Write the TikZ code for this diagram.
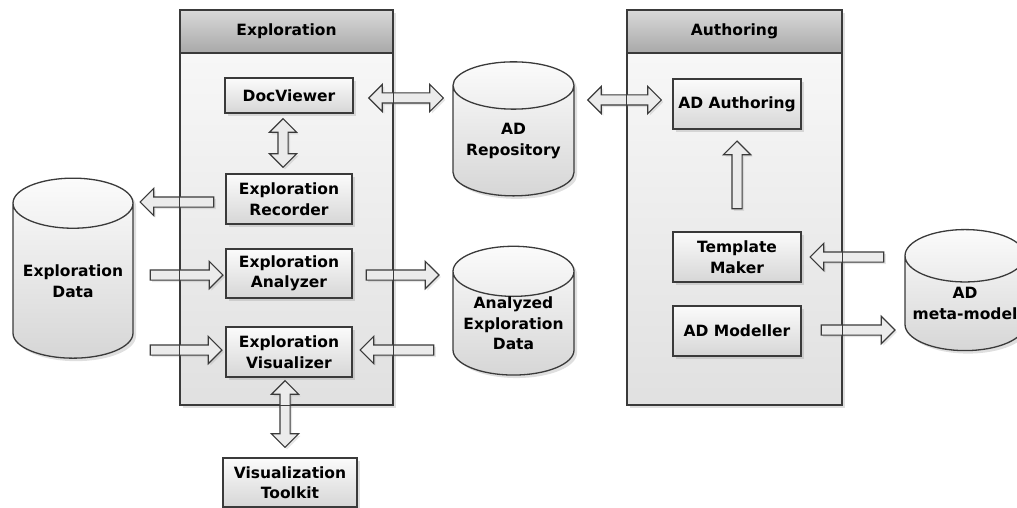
\documentclass[tikz,border=0pt]{standalone}
\usepackage{fontspec}
\setmainfont{DejaVu Sans}
\usetikzlibrary{shapes.geometric,shapes.arrows,shadows,calc}
\definecolor{edge}{RGB}{58,58,58}
\tikzset{
        % boxes inside the two panels
        part/.style={rectangle, draw=edge, line width=1.3pt, top color=gray!3, bottom color=gray!32,
            minimum width=126pt, minimum height=50pt, inner sep=0pt, align=center,
            font=\fontsize{15.5}{20.5}\selectfont\bfseries,
            drop shadow={shadow xshift=3pt, shadow yshift=-3pt, opacity=0.25}},
        panel/.style={rectangle, draw=edge, line width=1.3pt, top color=gray!4, bottom color=gray!24,
            minimum height=395pt, inner sep=0pt,
            drop shadow={shadow xshift=3pt, shadow yshift=-3pt, opacity=0.25}},
        panelhead/.style={rectangle, draw=edge, line width=1.3pt, top color=gray!30, bottom color=gray!68,
            minimum height=43pt, inner sep=0pt, anchor=north, font=\fontsize{15.5}{20.5}\selectfont\bfseries},
        panelline/.style={draw=edge, line width=1.3pt},
        % data stores
        store/.style={cylinder, shape border rotate=90, aspect=0.5, draw=edge, line width=1.3pt,
            top color=gray!3, bottom color=gray!32, minimum width=121pt, inner sep=0pt, align=center,
            font=\fontsize{15.5}{20.5}\selectfont\bfseries,
            drop shadow={shadow xshift=3pt, shadow yshift=-3pt, opacity=0.25}},
        % hollow block arrows
        fatbody/.style={draw=edge, line width=1.2pt, fill=gray!16, inner xsep=0pt, inner ysep=4.5pt,
            minimum width=26pt,
            drop shadow={shadow xshift=2pt, shadow yshift=-2pt, opacity=0.2}},
        fatarrow/.style={to path={let \p1=($(\tikztotarget)-(\tikztostart)$),
            \n1={veclen(\x1,\y1)}, \n2={atan2(\y1,\x1)} in
            node[fatbody, single arrow, single arrow head extend=8.5pt, minimum height=\n1, rotate=\n2]
                at ($(\tikztostart)!0.5!(\tikztotarget)$) {}}},
        fatboth/.style={to path={let \p1=($(\tikztotarget)-(\tikztostart)$),
            \n1={veclen(\x1,\y1)}, \n2={atan2(\y1,\x1)} in
            node[fatbody, double arrow, double arrow head extend=8.5pt, minimum height=\n1, rotate=\n2]
                at ($(\tikztostart)!0.5!(\tikztotarget)$) {}}}
    }

\begin{document}
\begin{tikzpicture}[x=1pt,y=-1pt]
\clip (0,0) rectangle (1017,508);

%Panels
\node[panel, minimum width=213pt] (exppanel) at (286.5,207.5) {};
\node[panelhead, minimum width=213pt] (exphead) at (exppanel.north) {Exploration};
\node[panel, minimum width=215pt] (autpanel) at (734.5,207.5) {};
\node[panelhead, minimum width=215pt] (authead) at (autpanel.north) {Authoring};

%Exploration parts
\node[part, minimum width=128pt, minimum height=35pt] (docviewer) at (289,95.5) {DocViewer};
\node[part] (recorder) at (289,199) {Exploration\\Recorder};
\node[part, minimum height=49pt] (analyzer) at (289,273.5) {Exploration\\Analyzer};
\node[part] (visualizer) at (289,352) {Exploration\\Visualizer};
\node[part, minimum width=134pt, minimum height=49pt] (toolkit) at (290,482.5) {Visualization\\Toolkit};

%Authoring parts
\node[part, minimum width=128pt] (adauthoring) at (737,104) {AD Authoring};
\node[part, minimum width=128pt] (tmplmaker) at (737,257) {Template\\Maker};
\node[part, minimum width=128pt] (admodeller) at (737,331) {AD Modeller};

%Data stores
\node[store, minimum width=120pt, minimum height=180pt] (expdata) at (73,281) {Exploration\\Data};
\node[store, minimum height=134pt] (adrepo) at (513.5,141) {AD\\Repository};
\node[store, minimum height=125pt] (anadata) at (513.5,323.5) {Analyzed\\Exploration\\Data};
\node[store, minimum width=120pt, minimum height=121pt] (metamodel) at (965,303.5) {AD\\meta-model};

%Arrows
\path[fatarrow] ($(recorder.west)+(-9,3)$) to ($(expdata.east |- recorder.west)+(9,3)$);
\path[fatarrow] ($(expdata.east |- analyzer.west)+(14,1.5)$) to ($(analyzer.west)+(-5,1.5)$);
\path[fatarrow] ($(expdata.east |- visualizer.west)+(14,-2)$) to ($(visualizer.west)+(-6,-2)$);
\path[fatarrow] ($(analyzer.east)+(11,1.5)$) to ($(anadata.west |- analyzer.east)+(-16,1.5)$);
\path[fatarrow] ($(anadata.west |- visualizer.east)+(-16,-2)$) to ($(visualizer.east)+(10,-2)$);
\path[fatboth] ($(visualizer.south)+(-4,3)$) to ($(toolkit.north)+(-5,-10)$);
\path[fatboth] ($(docviewer.south)+(-6,5)$) to ($(recorder.north)+(-6,-6)$);
\path[fatboth] ($(docviewer.east)+(15,2.5)$) to ($(adrepo.west |- docviewer.east)+(-9,2.5)$);
\path[fatboth] ($(adrepo.east |- adauthoring.west)+(13,-4)$) to ($(adauthoring.west)+(-11,-4)$);
\path[fatarrow] ($(tmplmaker.north)+(0,-20)$) to ($(adauthoring.south)+(0,14)$);
\path[fatarrow] ($(metamodel.west |- tmplmaker.east)+(-18,0)$) to ($(tmplmaker.east)+(11,0)$);
\path[fatarrow] ($(admodeller.east)+(17,-1)$) to ($(metamodel.west |- admodeller.east)+(-12,-1)$);

%Panel borders over the arrows
\draw[panelline] (exppanel.north west) rectangle (exppanel.south east);
\draw[panelline] (autpanel.north west) rectangle (autpanel.south east);

\end{tikzpicture}
\end{document}
